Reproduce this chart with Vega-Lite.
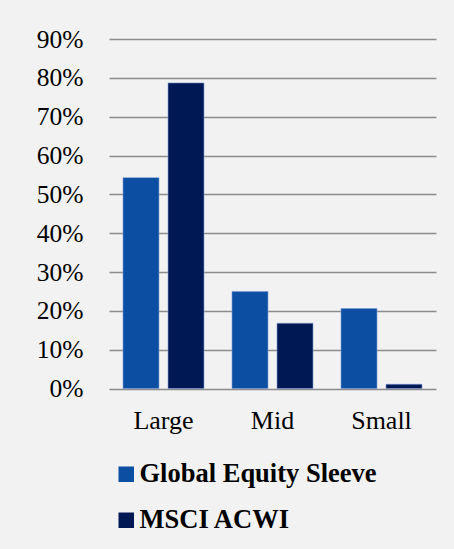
{
  "$schema": "https://vega.github.io/schema/vega-lite/v6.json",
  "autosize": {"type": "none"},
  "width": 327,
  "height": 349.5,
  "padding": {"left": 109, "top": 39, "right": 18, "bottom": 160.5},
  "background": "#f2f2f2",
  "data": {
    "values": [
      {"size": "Large", "series": "Global Equity Sleeve", "value": 0.543},
      {"size": "Large", "series": "MSCI ACWI", "value": 0.787},
      {"size": "Mid", "series": "Global Equity Sleeve", "value": 0.25},
      {"size": "Mid", "series": "MSCI ACWI", "value": 0.168},
      {"size": "Small", "series": "Global Equity Sleeve", "value": 0.206},
      {"size": "Small", "series": "MSCI ACWI", "value": 0.011}
    ]
  },
  "mark": {"type": "bar", "stroke": "#7f9fd6", "strokeWidth": 1, "strokeOpacity": 0.6},
  "encoding": {
    "x": {
      "field": "size",
      "type": "nominal",
      "sort": ["Large", "Mid", "Small"],
      "scale": {"paddingInner": 0, "paddingOuter": 0},
      "axis": {
        "title": null,
        "labelAngle": 0,
        "domain": false,
        "ticks": false,
        "labelFontSize": 26,
        "labelColor": "#000000",
        "labelBaseline": "alphabetic",
        "labelPadding": 40
      }
    },
    "xOffset": {
      "field": "series",
      "type": "nominal",
      "sort": ["Global Equity Sleeve", "MSCI ACWI"],
      "scale": {"paddingInner": 0.2, "paddingOuter": 0.311}
    },
    "y": {
      "field": "value",
      "type": "quantitative",
      "scale": {"domain": [0, 0.9], "nice": false},
      "axis": {
        "title": null,
        "format": ".0%",
        "values": [0, 0.1, 0.2, 0.3, 0.4, 0.5, 0.6, 0.7, 0.8, 0.9],
        "domain": false,
        "ticks": false,
        "labelFontSize": 25.5,
        "labelColor": "#000000",
        "labelPadding": 26,
        "gridColor": "#8c8c8c",
        "gridWidth": 1.6
      }
    },
    "color": {
      "field": "series",
      "type": "nominal",
      "sort": ["Global Equity Sleeve", "MSCI ACWI"],
      "scale": {"range": ["#0b4ea2", "#001955"]},
      "legend": {
        "title": null,
        "orient": "none",
        "legendX": 4,
        "legendY": 422,
        "direction": "vertical",
        "padding": 0,
        "symbolType": "square",
        "symbolSize": 240,
        "symbolStrokeWidth": 0,
        "labelFontSize": 26.5,
        "labelFontWeight": "bold",
        "labelColor": "#000000",
        "labelOffset": 0,
        "labelLimit": 400,
        "rowPadding": 19
      }
    }
  },
  "config": {
    "font": "Liberation Serif",
    "axis": {"labelFont": "Liberation Serif"},
    "legend": {"labelFont": "Liberation Serif"},
    "view": {"stroke": null}
  }
}
